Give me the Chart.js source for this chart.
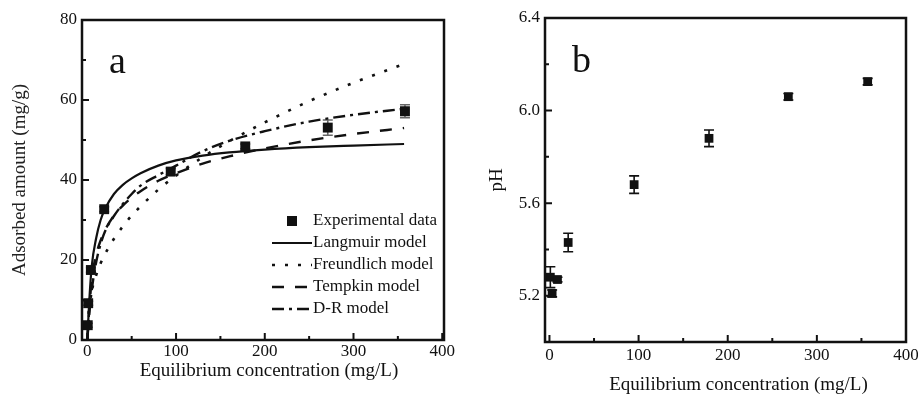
<!DOCTYPE html>
<html>
<head>
<meta charset="utf-8">
<script src="https://cdn.jsdelivr.net/npm/chart.js@4.4.0/dist/chart.umd.min.js"></script>
<style>
html,body{margin:0;padding:0;background:#fff;}
#wrap{position:relative;width:918px;height:394px;overflow:hidden;background:#fff;}
canvas{position:absolute;top:0;}
#ca{left:0;}
#cb{left:459px;}
</style>
</head>
<body>
<div id="wrap">
<canvas id="ca" width="459" height="394"></canvas>
<canvas id="cb" width="459" height="394"></canvas>
</div>
<script>
// ---------- Panel a data ----------
const expConc      = [0.5, 1, 4, 19, 94, 178, 271, 358];
const expAdsorbed  = [3.7, 9.2, 17.5, 32.7, 42.1, 48.4, 53.1, 57.2];
const expError     = [0.5, 0.5, 0.6, 0.6, 0.8, 0.6, 1.9, 1.6];

const modelConc    = [0, 2, 5, 10, 15, 20, 30, 40, 50, 60, 80, 100, 130, 160, 200, 250, 300, 357];
const langmuirFit  = [0, 9, 18.5, 25.5, 30, 32.8, 36.5, 38.8, 40.4, 41.7, 43.6, 44.9, 46.1, 46.9, 47.6, 48.2, 48.6, 49.0];
const freundlichFit= [0, 8.5, 12.3, 16.2, 19.2, 21.5, 25.3, 28.4, 31.1, 33.4, 37.6, 41.1, 45.7, 49.7, 54.4, 59.7, 64.3, 69.0];
const tempkinFit   = [0, 7, 15.2, 21.3, 24.9, 27.5, 31.1, 33.6, 35.6, 37.2, 39.8, 41.7, 44.1, 45.9, 47.9, 49.9, 51.5, 53.0];
const drFit        = [0, 6, 12.5, 19.5, 24, 27.2, 31, 34, 36.5, 38.6, 41.2, 43.6, 47.2, 49.8, 52.2, 54.6, 56.3, 57.8];

const xTicksA      = [0, 100, 200, 300, 400];
const xMinorA      = [50, 150, 250, 350];
const yTicksA      = [0, 20, 40, 60, 80];
const yMinorA      = [10, 30, 50, 70];

// ---------- Panel b data ----------
const phConc       = [1, 3, 9, 21, 95, 179, 268, 357];
const phValue      = [5.28, 5.21, 5.27, 5.43, 5.68, 5.88, 6.06, 6.125];
const phError      = [0.045, 0.015, 0.01, 0.04, 0.038, 0.036, 0.014, 0.014];

const xTicksB      = [0, 100, 200, 300, 400];
const xMinorB      = [50, 150, 250, 350];
const yTicksB      = [5.2, 5.6, 6.0, 6.4];
const yMinorB      = [5.4, 5.8, 6.2];

const FONT = '"Liberation Serif", "Times New Roman", serif';
const INK = '#111';

// inner ticks + frame
const frameTicks = {
  id: 'frameTicks',
  afterDraw(chart, args, o) {
    const {ctx, chartArea: a, scales} = chart;
    const xs = scales.x, ys = scales.y;
    ctx.save();
    ctx.strokeStyle = INK;
    ctx.lineCap = 'butt';
    ctx.lineWidth = 2;
    ctx.beginPath();
    xs.ticks.forEach(t => { const p = xs.getPixelForValue(t.value); ctx.moveTo(p, a.bottom); ctx.lineTo(p, a.bottom - o.major); });
    o.xMinor.forEach(v => { const p = xs.getPixelForValue(v); ctx.moveTo(p, a.bottom); ctx.lineTo(p, a.bottom - o.minor); });
    ys.ticks.forEach(t => { const p = ys.getPixelForValue(t.value); ctx.moveTo(a.left, p); ctx.lineTo(a.left + o.major, p); });
    o.yMinor.forEach(v => { const p = ys.getPixelForValue(v); ctx.moveTo(a.left, p); ctx.lineTo(a.left + o.minor, p); });
    ctx.stroke();
    ctx.lineWidth = 2.5;
    ctx.strokeRect(a.left, a.top, a.right - a.left, a.bottom - a.top);
    ctx.restore();
  }
};

// error bars drawn from dataset values through the scales
const errorBars = {
  id: 'errorBars',
  beforeDatasetsDraw(chart) {
    const {ctx, scales} = chart;
    chart.data.datasets.forEach(ds => {
      if (!ds.errorBars) return;
      ctx.save();
      ctx.strokeStyle = ds.errorColor || INK;
      ctx.lineWidth = 1.6;
      ds.data.forEach((pt, j) => {
        const e = ds.errorBars[j];
        const px = scales.x.getPixelForValue(pt.x);
        const t = scales.y.getPixelForValue(pt.y + e);
        const b = scales.y.getPixelForValue(pt.y - e);
        const c = ds.capHalf || 5;
        ctx.beginPath();
        ctx.moveTo(px, t); ctx.lineTo(px, b);
        ctx.moveTo(px - c, t); ctx.lineTo(px + c, t);
        ctx.moveTo(px - c, b); ctx.lineTo(px + c, b);
        ctx.stroke();
      });
      ctx.restore();
    });
  }
};

// key inside the plot (panel a)
const seriesKey = {
  id: 'seriesKey',
  afterDraw(chart, args, o) {
    if (!o || !o.show) return;
    const ctx = chart.ctx;
    chart.data.datasets.forEach((ds, i) => {
      const y = o.y0 + i * o.dy;
      ctx.save();
      if (!ds.showLine) {
        const s = 10;
        ctx.fillStyle = ds.backgroundColor;
        ctx.fillRect(o.x + o.w / 2 - s / 2, y - s / 2, s, s);
      } else {
        ctx.strokeStyle = ds.borderColor;
        ctx.lineWidth = ds.borderWidth;
        ctx.setLineDash(ds.borderDash || []);
        ctx.beginPath();
        ctx.moveTo(o.x, y); ctx.lineTo(o.x + o.w, y);
        ctx.stroke();
      }
      ctx.setLineDash([]);
      ctx.fillStyle = INK;
      ctx.font = o.size + 'px ' + FONT;
      ctx.textBaseline = 'middle';
      ctx.textAlign = 'left';
      ctx.fillText(ds.label, o.textX, y);
      ctx.restore();
    });
  }
};

// panel letter and x axis title
const panelText = {
  id: 'panelText',
  afterDraw(chart, args, o) {
    const ctx = chart.ctx;
    ctx.save();
    ctx.fillStyle = INK;
    ctx.textBaseline = 'alphabetic';
    ctx.textAlign = 'left';
    ctx.font = o.letterSize + 'px ' + FONT;
    ctx.fillText(o.letter, o.letterX, o.letterY);
    ctx.textAlign = 'center';
    ctx.font = o.titleSize + 'px ' + FONT;
    ctx.fillText(o.title, o.titleX, o.titleY);
    ctx.restore();
  }
};

function pts(xs, ys) { return xs.map((x, i) => ({x: x, y: ys[i]})); }
function lineSet(label, ys, dash, width) {
  return {label: label, data: pts(modelConc, ys), showLine: true, pointRadius: 0, pointHoverRadius: 0,
          borderColor: INK, backgroundColor: INK, borderWidth: width, borderDash: dash,
          cubicInterpolationMode: 'monotone', fill: false};
}
function tickFont() { return {family: FONT, size: 17}; }

new Chart(document.getElementById('ca'), {
  type: 'scatter',
  data: {
    datasets: [
      {label: 'Experimental data', data: pts(expConc, expAdsorbed), showLine: false,
       pointStyle: 'rect', pointRadius: 7, pointHoverRadius: 7, backgroundColor: INK, borderColor: INK, borderWidth: 0,
       errorBars: expError, errorColor: '#666', capHalf: 5},
      lineSet('Langmuir model', langmuirFit, [], 2.2),
      lineSet('Freundlich model', freundlichFit, [3, 10], 2.6),
      lineSet('Tempkin model', tempkinFit, [12, 11], 2.4),
      lineSet('D-R model', drFit, [12, 5, 3, 5], 2.4)
    ]
  },
  options: {
    responsive: false, animation: false, devicePixelRatio: 1,
    layout: {padding: {left: 0, top: 20, right: 15, bottom: 0}},
    plugins: {
      legend: {display: false}, tooltip: {enabled: false},
      frameTicks: {major: 7, minor: 4, xMinor: xMinorA, yMinor: yMinorA},
      seriesKey: {show: true, x: 272, w: 40, y0: 221, dy: 22, textX: 313, size: 17},
      panelText: {letter: 'a', letterX: 109, letterY: 73, letterSize: 38,
                  title: 'Equilibrium concentration (mg/L)', titleX: 269, titleY: 376, titleSize: 19}
    },
    scales: {
      x: {type: 'linear', min: -6, max: 402,
          grid: {display: false, drawTicks: false}, border: {display: false},
          afterBuildTicks: s => { s.ticks = xTicksA.map(v => ({value: v})); },
          afterFit: s => { s.height = 54; s.paddingLeft = 0; s.paddingRight = 0; },
          ticks: {autoSkip: false, maxRotation: 0, minRotation: 0, padding: 1, color: INK, font: tickFont()}},
      y: {type: 'linear', min: 0, max: 80,
          grid: {display: false, drawTicks: false}, border: {display: false},
          afterBuildTicks: s => { s.ticks = yTicksA.map(v => ({value: v})); },
          afterFit: s => { s.width = 82; s.paddingTop = 0; s.paddingBottom = 0; },
          ticks: {autoSkip: false, padding: 5, color: INK, font: tickFont()},
          title: {display: true, text: 'Adsorbed amount (mg/g)', color: '#222',
                  font: {family: FONT, size: 19}, padding: {top: 8.5, bottom: 0}}}
    }
  },
  plugins: [errorBars, frameTicks, seriesKey, panelText]
});

new Chart(document.getElementById('cb'), {
  type: 'scatter',
  data: {
    datasets: [
      {label: 'pH', data: pts(phConc, phValue), showLine: false,
       pointStyle: 'rect', pointRadius: 6.2, pointHoverRadius: 6.2, backgroundColor: INK, borderColor: INK, borderWidth: 0,
       errorBars: phError, errorColor: INK, capHalf: 5}
    ]
  },
  options: {
    responsive: false, animation: false, devicePixelRatio: 1,
    layout: {padding: {left: 0, top: 18, right: 12, bottom: 0}},
    plugins: {
      legend: {display: false}, tooltip: {enabled: false},
      frameTicks: {major: 7, minor: 4, xMinor: xMinorB, yMinor: yMinorB},
      panelText: {letter: 'b', letterX: 113, letterY: 72, letterSize: 38,
                  title: 'Equilibrium concentration (mg/L)', titleX: 279.5, titleY: 390, titleSize: 19}
    },
    scales: {
      x: {type: 'linear', min: -5, max: 400,
          grid: {display: false, drawTicks: false}, border: {display: false},
          afterBuildTicks: s => { s.ticks = xTicksB.map(v => ({value: v})); },
          afterFit: s => { s.height = 52; s.paddingLeft = 0; s.paddingRight = 0; },
          ticks: {autoSkip: false, maxRotation: 0, minRotation: 0, padding: 3, color: INK, font: tickFont()}},
      y: {type: 'linear', min: 5.0, max: 6.4,
          grid: {display: false, drawTicks: false}, border: {display: false},
          afterBuildTicks: s => { s.ticks = yTicksB.map(v => ({value: v})); },
          afterFit: s => { s.width = 86; s.paddingTop = 0; s.paddingBottom = 0; },
          ticks: {autoSkip: false, padding: 5, color: INK, font: tickFont(), callback: v => Number(v).toFixed(1)},
          title: {display: true, text: 'pH', color: INK,
                  font: {family: FONT, size: 19}, padding: {top: 27, bottom: 0}}}
    }
  },
  plugins: [errorBars, frameTicks, panelText]
});
</script>
</body>
</html>
